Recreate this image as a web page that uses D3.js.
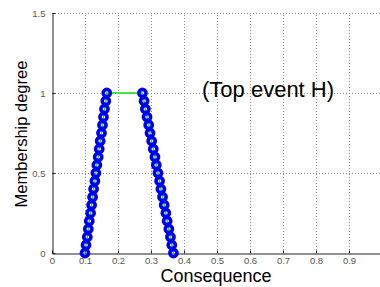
<!DOCTYPE html>
<html>
<head>
<meta charset="utf-8">
<script src="https://cdn.jsdelivr.net/npm/d3@7"></script>
<style>
  html, body { margin: 0; padding: 0; background: #fff; }
  svg { display: block; font-family: "Liberation Sans", Arial, sans-serif; }
</style>
</head>
<body>
<svg id="chart" width="380" height="287"></svg>
<script>
// ---- data ----
const alphaLevels = [0, 0.05, 0.10, 0.15, 0.20, 0.25, 0.30, 0.35, 0.40, 0.45, 0.50,
                     0.55, 0.60, 0.65, 0.70, 0.75, 0.80, 0.85, 0.90, 0.95, 1.00];
const leftX  = [0.100, 0.103, 0.107, 0.110, 0.113, 0.117, 0.120, 0.123, 0.126, 0.130, 0.133,
                0.136, 0.140, 0.143, 0.146, 0.150, 0.153, 0.156, 0.159, 0.163, 0.166];
const rightX = [0.368, 0.363, 0.359, 0.354, 0.349, 0.345, 0.340, 0.335, 0.330, 0.326, 0.321,
                0.316, 0.312, 0.307, 0.302, 0.297, 0.293, 0.288, 0.283, 0.279, 0.274];
const xTicks = [0, 0.1, 0.2, 0.3, 0.4, 0.5, 0.6, 0.7, 0.8, 0.9];
const xTickLabels = ["0", "0.1", "0.2", "0.3", "0.4", "0.5", "0.6", "0.7", "0.8", "0.9"];
const yTicks = [0, 0.5, 1, 1.5];
const yTickLabels = ["0", "0.5", "1", "1.5"];
const xLabel = "Consequence";
const yLabel = "Membership degree";
const annotation = "(Top event H)";

// ---- layout ----
const svg = d3.select("#chart");
const x = d3.scaleLinear().domain([0, 1]).range([52, 382]);
const y = d3.scaleLinear().domain([0, 1.5]).range([253, 13]);

// grid
const grid = svg.append("g").attr("stroke", "#8a8a8a").attr("stroke-width", 1)
  .attr("stroke-dasharray", "1,2");
grid.selectAll("line.v").data(xTicks.slice(1)).join("line")
  .attr("x1", d => Math.round(x(d)) + 0.5).attr("x2", d => Math.round(x(d)) + 0.5)
  .attr("y1", y(0)).attr("y2", y(1.5));
grid.selectAll("line.h").data(yTicks.slice(1)).join("line")
  .attr("x1", x(0)).attr("x2", 380)
  .attr("y1", d => Math.round(y(d)) + 0.5).attr("y2", d => Math.round(y(d)) + 0.5);

// axes
const xAxis = d3.axisBottom(x).tickValues(xTicks)
  .tickFormat((d, i) => xTickLabels[i]).tickSizeInner(-3).tickSizeOuter(0).tickPadding(4);
const yAxis = d3.axisLeft(y).tickValues(yTicks)
  .tickFormat((d, i) => yTickLabels[i]).tickSizeInner(-3).tickSizeOuter(0).tickPadding(6);

const gx = svg.append("g").attr("transform", `translate(0,${Math.round(y(0)) + 0.5})`).call(xAxis);
const gy = svg.append("g").attr("transform", `translate(${Math.round(x(0)) + 0.5},0)`).call(yAxis);
[gx, gy].forEach(g => {
  g.select(".domain").attr("stroke", "#222");
  g.selectAll(".tick line").attr("stroke", "#222");
  g.selectAll(".tick text").attr("fill", "#555").style("font-size", "9.5px")
    .style("font-family", "'Liberation Sans', Arial, sans-serif");
});
gy.selectAll(".tick text").attr("dx", "-1");

// data path
const pts = alphaLevels.map((a, i) => [leftX[i], a])
  .concat(alphaLevels.map((a, i) => [rightX[i], a]).reverse());
svg.append("path").datum(pts)
  .attr("fill", "none").attr("stroke", "#11e011").attr("stroke-width", 1.5)
  .attr("d", d3.line().x(d => x(d[0])).y(d => y(d[1])));

svg.append("g").selectAll("circle").data(pts).join("circle")
  .attr("cx", d => x(d[0])).attr("cy", d => y(d[1])).attr("r", 3.6)
  .attr("fill", "none").attr("stroke", "#0000f0").attr("stroke-width", 3.6);

// labels
svg.append("text").attr("x", 216).attr("y", 282).attr("text-anchor", "middle")
  .style("font-size", "18px").attr("fill", "#000").text(xLabel);
svg.append("text").attr("transform", "translate(27,134) rotate(-90)").attr("text-anchor", "middle")
  .style("font-size", "16.5px").attr("fill", "#000").text(yLabel);
svg.append("text").attr("x", 202).attr("y", 97)
  .style("font-size", "22px").attr("fill", "#000").text(annotation);
</script>
</body>
</html>
